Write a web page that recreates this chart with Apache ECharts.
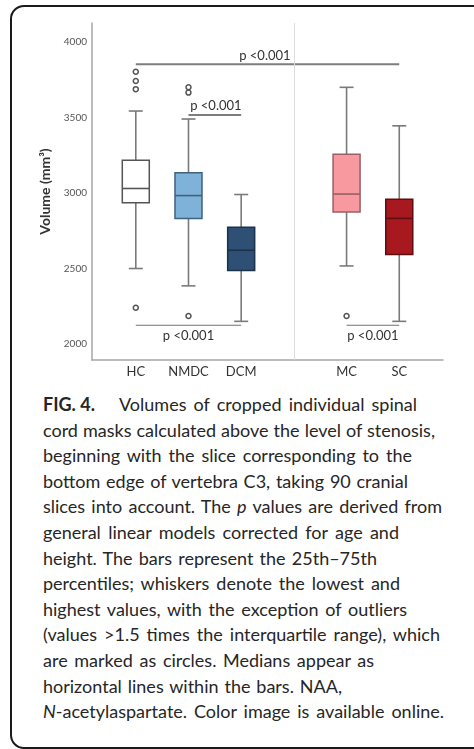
<!DOCTYPE html>
<html>
<head>
<meta charset="utf-8">
<script src="https://cdn.jsdelivr.net/npm/echarts@6/dist/echarts.min.js"></script>
<style>
  html, body { margin:0; padding:0; background:#fff; }
  body { width:474px; height:749px; position:relative; overflow:hidden; }
  #frame { position:absolute; left:10px; top:5px; width:490px; height:740px;
           border:2.5px solid #1a1a1a; border-radius:14px; box-sizing:content-box; }
  #chart { position:absolute; left:0; top:0; width:474px; height:390px; }
  #caption { position:absolute; left:43px; top:392px; font-family:Lato, "Noto Sans", sans-serif;
             font-size:18px; line-height:25.6px; color:#262626; }
  .ln { text-align:justify; text-align-last:justify; white-space:normal; height:25.6px; overflow:visible; }
  .fig { display:inline-block; width:76px; text-align:left; text-align-last:left; font-weight:bold; }
  .rest { display:inline-block; text-align:justify; text-align-last:justify; }
</style>
</head>
<body>
<div id="frame"></div>
<div id="chart"></div>
<div id="caption">
  <div class="ln" style="width:374px;text-align:left;text-align-last:left;"><span class="fig">FIG. 4.</span><span class="rest" style="width:298px">Volumes of cropped individual spinal</span></div>
  <div class="ln" style="width:392px">cord masks calculated above the level of stenosis,</div>
  <div class="ln" style="width:369px">beginning with the slice corresponding to the</div>
  <div class="ln" style="width:365px">bottom edge of vertebra C3, taking 90 cranial</div>
  <div class="ln" style="width:399px">slices into account. The <i>p</i> values are derived from</div>
  <div class="ln" style="width:356px">general linear models corrected for age and</div>
  <div class="ln" style="width:334px">height. The bars represent the 25th–75th</div>
  <div class="ln" style="width:357px">percentiles; whiskers denote the lowest and</div>
  <div class="ln" style="width:364px">highest values, with the exception of outliers</div>
  <div class="ln" style="width:397px">(values &gt;1.5 times the interquartile range), which</div>
  <div class="ln" style="width:331px">are marked as circles. Medians appear as</div>
  <div class="ln" style="width:299px">horizontal lines within the bars. NAA,</div>
  <div class="ln" style="width:401px"><i>N</i>-acetylaspartate. Color image is available online.</div>
</div>
<script>
// ---- data ----
const categories   = ['HC', 'NMDC', 'DCM', 'MC', 'SC'];
const positions    = [1, 2, 3, 5, 6];
const whiskerLow   = [2500, 2385, 2150, 2517, 2150];
const quartile1    = [2935, 2832, 2487, 2874, 2592];
const median       = [3030, 2983, 2621, 2993, 2832];
const quartile3    = [3217, 3135, 2773, 3256, 2958];
const whiskerHigh  = [3543, 3490, 2990, 3700, 3445];

const outlierGroup  = ['HC', 'HC', 'HC', 'HC', 'NMDC', 'NMDC', 'NMDC', 'MC'];
const outlierValues = [3803, 3742, 3688, 2240, 3700, 3665, 2185, 2185];

const yTicks = [2000, 2500, 3000, 3500, 4000];
const separatorAt = [4];

const sigLabels = ['p <0.001', 'p <0.001', 'p <0.001', 'p <0.001'];
const sigFrom   = [1, 2, 1, 5];
const sigTo     = [6, 3, 3, 6];
const sigY      = [3852, 3517, 2124, 2124];
const sigLabelX = [3.45, 2.52, 2.0, 5.5];
const sigSide   = ['above', 'above', 'below', 'below'];

// ---- styles ----
const boxFill   = ['#ffffff', '#7fb2d9', '#2e5075', '#f7999f', '#a8191f'];
const boxBorder = ['#555555', '#41627e', '#1c324b', '#976166', '#5e0d10'];
const FONT = 'Lato, "Noto Sans", sans-serif';
const BOX_W = 27, CAP_W = 14;

const boxData = categories.map((c, i) => [positions[i], whiskerLow[i], quartile1[i], median[i], quartile3[i], whiskerHigh[i]]);
const outlierData = outlierGroup.map((g, i) => [positions[categories.indexOf(g)], outlierValues[i]]);
const sigData = sigLabels.map((l, i) => [sigFrom[i], sigTo[i], sigY[i], sigLabelX[i]]);

const chart = echarts.init(document.getElementById('chart'), null, { renderer: 'canvas' });
chart.setOption({
  animation: false,
  grid: { left: 92, right: 31, top: 23, bottom: 30, containLabel: false },
  xAxis: {
    type: 'value', min: 0.169, max: 6.83,
    axisLine: { show: true, lineStyle: { color: '#a6a6a6', width: 1.5 } },
    axisTick: { show: false },
    splitLine: { show: false },
    axisLabel: {
      customValues: positions,
      formatter: v => categories[positions.indexOf(v)] || '',
      color: '#333', fontSize: 13, fontFamily: FONT, margin: 5
    }
  },
  yAxis: {
    type: 'value', min: 1894, max: 4126,
    axisLine: { show: true, lineStyle: { color: '#a6a6a6', width: 1.5 } },
    axisTick: { show: false },
    splitLine: { show: false },
    axisLabel: { customValues: yTicks, formatter: v => String(v), color: '#555', fontSize: 10, fontFamily: FONT, margin: 5 },
    name: 'Volume (mm³)', nameLocation: 'middle', nameGap: 37, nameRotate: 90,
    nameTextStyle: { fontFamily: FONT, fontWeight: 'bold', fontSize: 14, color: '#333' }
  },
  series: [
    {
      type: 'custom',
      name: 'boxes',
      data: boxData,
      encode: { x: 0, y: [1, 2, 3, 4, 5] },
      markLine: {
        silent: true, symbol: 'none',
        label: { show: false },
        lineStyle: { color: '#dcdcdc', width: 1, type: 'solid' },
        data: separatorAt.map(v => ({ xAxis: v }))
      },
      renderItem: function (params, api) {
        const i = params.dataIndex;
        const x = api.value(0);
        const lo = api.coord([x, api.value(1)]);
        const q1 = api.coord([x, api.value(2)]);
        const md = api.coord([x, api.value(3)]);
        const q3 = api.coord([x, api.value(4)]);
        const hi = api.coord([x, api.value(5)]);
        const cx = lo[0];
        const wStyle = { stroke: '#7a7a7a', lineWidth: 1.6 };
        return {
          type: 'group',
          children: [
            { type: 'line', shape: { x1: cx, y1: hi[1], x2: cx, y2: q3[1] }, style: wStyle },
            { type: 'line', shape: { x1: cx, y1: q1[1], x2: cx, y2: lo[1] }, style: wStyle },
            { type: 'line', shape: { x1: cx - CAP_W / 2, y1: hi[1], x2: cx + CAP_W / 2, y2: hi[1] }, style: wStyle },
            { type: 'line', shape: { x1: cx - CAP_W / 2, y1: lo[1], x2: cx + CAP_W / 2, y2: lo[1] }, style: wStyle },
            { type: 'rect', shape: { x: cx - BOX_W / 2, y: q3[1], width: BOX_W, height: q1[1] - q3[1] },
              style: { fill: boxFill[i], stroke: boxBorder[i], lineWidth: 1.5 } },
            { type: 'line', shape: { x1: cx - BOX_W / 2, y1: md[1], x2: cx + BOX_W / 2, y2: md[1] },
              style: { stroke: boxBorder[i], lineWidth: 1.6 } }
          ]
        };
      }
    },
    {
      type: 'scatter',
      name: 'outliers',
      data: outlierData,
      symbol: 'circle', symbolSize: 5,
      itemStyle: { color: '#ffffff', borderColor: '#555', borderWidth: 1.5, opacity: 1 }
    },
    {
      type: 'custom',
      name: 'significance',
      data: sigData,
      encode: { x: [0, 1, 3], y: 2 },
      renderItem: function (params, api) {
        const i = params.dataIndex;
        const a = api.coord([api.value(0), api.value(2)]);
        const b = api.coord([api.value(1), api.value(2)]);
        const t = api.coord([api.value(3), api.value(2)]);
        const above = sigSide[i] === 'above';
        return {
          type: 'group',
          children: [
            { type: 'line', shape: { x1: a[0], y1: a[1], x2: b[0], y2: b[1] },
              style: { stroke: above ? '#7d7d7d' : '#707070', lineWidth: above ? 2 : 1.2 } },
            { type: 'text', x: t[0], y: above ? t[1] - 9 : t[1] + 10.5,
              style: { text: sigLabels[i], fill: '#333', font: '13px ' + FONT, align: 'center', verticalAlign: 'middle' } }
          ]
        };
      }
    }
  ]
});
</script>
</body>
</html>
